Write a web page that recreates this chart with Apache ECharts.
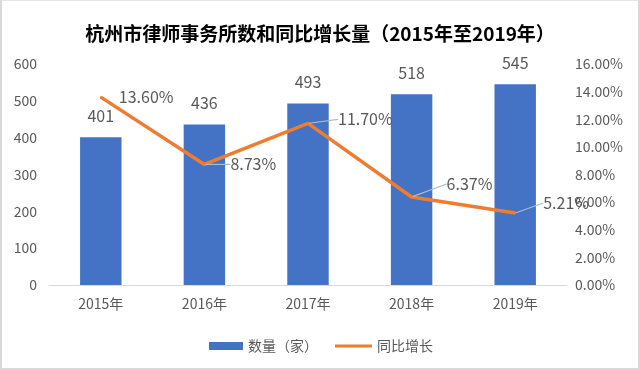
<!DOCTYPE html>
<html>
<head>
<meta charset="utf-8">
<script src="https://cdn.jsdelivr.net/npm/echarts@6/dist/echarts.min.js"></script>
<style>
html,body{margin:0;padding:0;background:#fff;}
#wrap{position:relative;width:640px;height:370px;}
#chart{width:640px;height:370px;}
#frame{position:absolute;left:0;top:0;width:640px;height:370px;box-sizing:border-box;border:2px solid #d9d9d9;border-top:1px solid #e6e6e6;pointer-events:none;}
</style>
</head>
<body>
<div id="wrap"><div id="chart"></div><div id="frame"></div></div>
<script>
const categories = ['2015年','2016年','2017年','2018年','2019年'];
const counts = [401, 436, 493, 518, 545];
const growth = [13.60, 8.73, 11.70, 6.37, 5.21];
const barName = '数量（家）';
const lineName = '同比增长';
const titleText = '杭州市律师事务所数和同比增长量（2015年至2019年）';

const FONT = '"Microsoft YaHei","Noto Sans CJK SC",sans-serif';
const GREY = '#595959';
const labelOffsets = [[12,0],[20,0],[24,-4],[29,-13],[22,-10]];
const showGuide = [false,true,true,true,true];

const chart = echarts.init(document.getElementById('chart'));
chart.setOption({
  animation:false,
  textStyle:{fontFamily:FONT},
  title:{text:titleText,left:'center',top:19,textStyle:{fontSize:19,fontWeight:'bold',color:'#000',fontFamily:FONT}},
  legend:[{
    data:[{name:barName,icon:'rect'}],
    left:204,top:334,itemWidth:34,itemHeight:8,itemGap:8,
    textStyle:{color:GREY,fontSize:14,fontFamily:FONT}
  },{
    data:[{name:lineName,icon:'rect'}],
    left:330,top:334,itemWidth:37,itemHeight:3,itemGap:8,
    textStyle:{color:GREY,fontSize:14,fontFamily:FONT}
  }],
  grid:{left:49,right:73,top:64,bottom:85,containLabel:false},
  xAxis:{type:'category',data:categories,
    axisLine:{lineStyle:{color:'#d9d9d9'}},axisTick:{show:false},
    axisLabel:{color:GREY,fontSize:14,margin:12,fontFamily:FONT}},
  yAxis:[{type:'value',min:0,max:600,interval:100,
    splitLine:{show:false},axisLine:{show:false},axisTick:{show:false},
    axisLabel:{color:GREY,fontSize:14,margin:12,fontFamily:FONT}},
   {type:'value',min:0,max:16,interval:2,
    splitLine:{show:false},axisLine:{show:false},axisTick:{show:false},
    axisLabel:{color:GREY,fontSize:14,margin:8,fontFamily:FONT,formatter:v=>v.toFixed(2)+'%'}}],
  series:[{
    name:barName,type:'bar',data:counts,barWidth:'40%',
    itemStyle:{color:'#4472C4'},
    label:{show:true,position:'top',distance:13,color:GREY,fontSize:16,fontFamily:FONT}
  },{
    name:lineName,type:'line',yAxisIndex:1,
    data:growth.map((v,i)=>({value:v,labelLine:{show:showGuide[i]}})),
    symbol:'circle',symbolSize:2,showSymbol:true,
    lineStyle:{color:'#ED7D31',width:3.5},itemStyle:{color:'#ED7D31'},
    label:{show:true,position:'right',distance:5,color:GREY,fontSize:16,fontFamily:FONT,
      formatter:p=>p.value.toFixed(2)+'%'},
    labelLine:{show:true,lineStyle:{color:'#a9bccf',width:1.2}},
    labelLayout:p=>({dx:labelOffsets[p.dataIndex][0],dy:labelOffsets[p.dataIndex][1]}),
    z:3
  }]
});
</script>
</body>
</html>
